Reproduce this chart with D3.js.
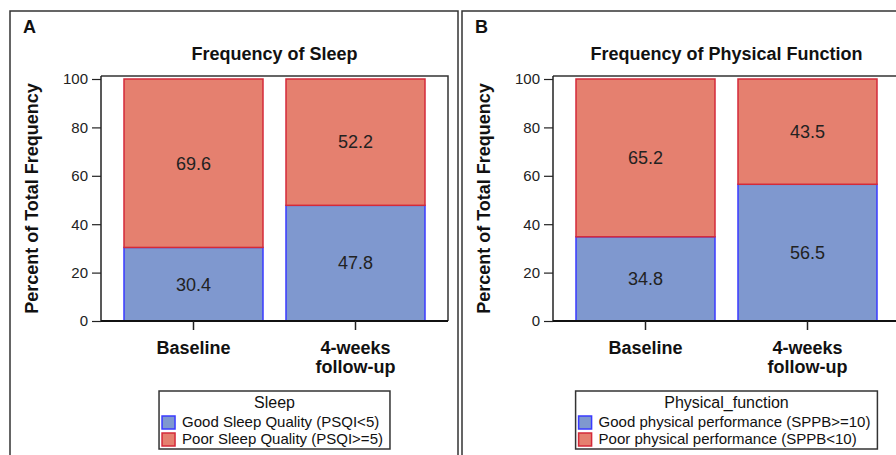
<!DOCTYPE html>
<html>
<head>
<meta charset="utf-8">
<script src="https://cdn.jsdelivr.net/npm/d3@7"></script>
<style>
  body { margin: 0; background: #fff; }
  svg { display: block; font-family: "Liberation Sans", Arial, sans-serif; }
</style>
</head>
<body>
<div class="container"></div>
<script>
// categories and values
var periods = ["Baseline", "4-weeks follow-up"];
var periodLines = [["Baseline"], ["4-weeks", "follow-up"]];
var yTicks = [0, 20, 40, 60, 80, 100];

var sleepGood = [30.4, 47.8];
var sleepPoor = [69.6, 52.2];
var physGood = [34.8, 56.5];
var physPoor = [65.2, 43.5];

var sleepLegend = ["Good Sleep Quality (PSQI<5)", "Poor Sleep Quality (PSQI>=5)"];
var physLegend = ["Good physical performance (SPPB>=10)", "Poor physical performance (SPPB<10)"];

var fills = ["#7f98cf", "#e5806f"];
var strokes = ["#3a3aff", "#d42a3a"];

var width = 896, height = 455;
var svg = d3.select(".container").append("svg")
  .attr("width", width).attr("height", height);

// one panel = letter, title, stacked bars, legend
function drawPanel(x0, letter, title, good, poor, legTitle, legItems) {
  var g = svg.append("g").attr("transform", "translate(" + x0 + ",0)");

  // panel border
  g.append("rect")
    .attr("x", 10).attr("y", 11).attr("width", 448).attr("height", 470)
    .attr("fill", "none").attr("stroke", "#333").attr("stroke-width", 1.5);

  g.append("text").attr("x", 23).attr("y", 33)
    .attr("font-size", 18).attr("font-weight", "bold").attr("fill", "#111")
    .text(letter);

  var left = 101, right = 448, top = 76;

  var x = d3.scaleBand().domain(periods).range([left, right])
    .paddingInner(0.142).paddingOuter(0.142);
  var y = d3.scaleLinear().domain([0, 100]).range([321, 79]);

  g.append("text").attr("x", (left + right) / 2).attr("y", 60)
    .attr("text-anchor", "middle").attr("font-size", 18).attr("font-weight", "bold")
    .attr("fill", "#111").text(title);

  g.append("text")
    .attr("transform", "translate(32," + (y(0) + top) / 2 + ") rotate(-90)")
    .attr("dy", "0.35em").attr("text-anchor", "middle")
    .attr("font-size", 18).attr("font-weight", "bold").attr("fill", "#111")
    .text("Percent of Total Frequency");

  // stacked bars
  var rows = periods.map(function(p, i) { return { period: p, good: good[i], poor: poor[i] }; });
  var stacked = d3.stack().keys(["good", "poor"])(rows);

  var layer = g.selectAll("g.layer").data(stacked).enter().append("g").attr("class", "layer");
  layer.selectAll("rect").data(function(d) { return d; }).enter().append("rect")
    .attr("x", function(d) { return x(d.data.period); })
    .attr("width", x.bandwidth())
    .attr("y", function(d) { return y(d[1]); })
    .attr("height", function(d) { return y(d[0]) - y(d[1]); })
    .attr("fill", function() { return fills[d3.select(this.parentNode).datum().index]; })
    .attr("stroke", function() { return strokes[d3.select(this.parentNode).datum().index]; })
    .attr("stroke-width", 1.5);

  layer.selectAll("text").data(function(d) { return d; }).enter().append("text")
    .attr("x", function(d) { return x(d.data.period) + x.bandwidth() / 2; })
    .attr("y", function(d) { return y((d[0] + d[1]) / 2); })
    .attr("dy", "0.35em").attr("text-anchor", "middle")
    .attr("font-size", 18).attr("fill", "#222")
    .text(function(d) { return (d[1] - d[0]).toFixed(1); });

  // frame: top and right
  g.append("path")
    .attr("d", "M" + left + "," + top + "H" + right + "V" + y(0))
    .attr("fill", "none").attr("stroke", "#333").attr("stroke-width", 1.5);

  // y axis
  var yAxis = g.append("g").attr("transform", "translate(" + left + ",0)")
    .call(d3.axisLeft(y).tickValues(yTicks).tickSize(9).tickPadding(4));
  yAxis.select(".domain").attr("d", "M0," + top + "V" + (y(0) + 1)).attr("stroke", "#222").attr("stroke-width", 1.5);
  yAxis.selectAll(".tick line").attr("stroke", "#222").attr("stroke-width", 1.2);
  yAxis.selectAll(".tick text").attr("font-size", 15).attr("fill", "#222")
    .attr("font-family", "'Liberation Sans', Arial, sans-serif");

  // x axis
  var xAxis = g.append("g").attr("transform", "translate(0," + y(0) + ")")
    .call(d3.axisBottom(x).tickSize(9).tickFormat(""));
  xAxis.select(".domain").attr("d", "M" + left + ",0H" + right).attr("stroke", "#111").attr("stroke-width", 2.2);
  xAxis.selectAll(".tick line").attr("stroke", "#222").attr("stroke-width", 1.5);

  periods.forEach(function(p, i) {
    var t = g.append("text").attr("x", x(p) + x.bandwidth() / 2).attr("y", 354)
      .attr("text-anchor", "middle").attr("font-size", 18).attr("font-weight", "bold").attr("fill", "#111");
    periodLines[i].forEach(function(line, j) {
      t.append("tspan").attr("x", x(p) + x.bandwidth() / 2).attr("dy", j === 0 ? 0 : 19).text(line);
    });
  });

  // legend
  var lg = g.append("g");
  var box = lg.append("rect").attr("y", 391).attr("height", 58)
    .attr("fill", "#fff").attr("stroke", "#333").attr("stroke-width", 1.5);
  var title2 = lg.append("text").attr("y", 408).attr("text-anchor", "middle")
    .attr("font-size", 16).attr("fill", "#111").text(legTitle);
  var items = lg.selectAll("g.item").data(legItems).enter().append("g").attr("class", "item");
  items.append("rect").attr("y", function(d, i) { return 416 + i * 17; })
    .attr("width", 13).attr("height", 13)
    .attr("fill", function(d, i) { return fills[i]; })
    .attr("stroke", function(d, i) { return strokes[i]; }).attr("stroke-width", 1.5);
  var itemText = items.append("text").attr("y", function(d, i) { return 427 + i * 17; })
    .attr("font-size", 15).attr("fill", "#111").text(function(d) { return d; });

  var textW = d3.max(itemText.nodes(), function(n) { return n.getComputedTextLength(); });
  var boxW = 3 + 13 + 7 + textW + 7;
  var bx = (left + right) / 2 - boxW / 2;
  box.attr("x", bx).attr("width", boxW);
  title2.attr("x", (left + right) / 2);
  items.select("rect").attr("x", bx + 3);
  itemText.attr("x", bx + 23);
}

drawPanel(0, "A", "Frequency of Sleep", sleepGood, sleepPoor, "Sleep", sleepLegend);
drawPanel(452, "B", "Frequency of Physical Function", physGood, physPoor, "Physical_function", physLegend);
</script>
</body>
</html>
